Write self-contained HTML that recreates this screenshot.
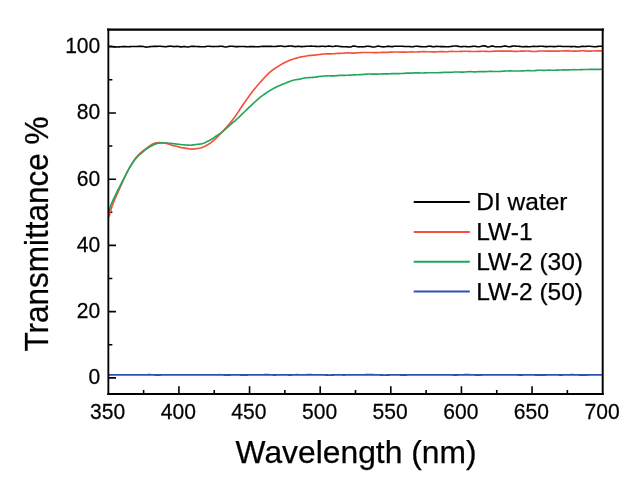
<!DOCTYPE html>
<html lang="en"><head><meta charset="utf-8"><title>Transmittance vs Wavelength</title>
<style>html,body{margin:0;padding:0;background:#fff}body{width:640px;height:490px;overflow:hidden}svg{display:block}</style>
</head><body>
<svg width="640" height="490" viewBox="0 0 640 490">
<rect x="0" y="0" width="640" height="490" fill="#fff"/>
<path d="M143.61 394.0 V390.00 M178.93 394.0 V386.30 M214.24 394.0 V390.00 M249.55 394.0 V386.30 M284.86 394.0 V390.00 M320.18 394.0 V386.30 M355.49 394.0 V390.00 M390.80 394.0 V386.30 M426.11 394.0 V390.00 M461.43 394.0 V386.30 M496.74 394.0 V390.00 M532.05 394.0 V386.30 M567.36 394.0 V390.00 M108.35 377.90 H115.95 M108.35 344.78 H112.35 M108.35 311.66 H115.95 M108.35 278.54 H112.35 M108.35 245.42 H115.95 M108.35 212.30 H112.35 M108.35 179.18 H115.95 M108.35 146.06 H112.35 M108.35 112.94 H115.95 M108.35 79.82 H112.35 M108.35 46.70 H115.95" stroke="#000" stroke-width="1.6" fill="none"/>
<path d="M108.3 375.02 L109.3 374.97 L110.3 374.93 L111.3 374.91 L112.3 374.89 L113.3 374.87 L114.3 374.87 L115.3 374.87 L116.3 374.87 L117.3 374.87 L118.3 374.88 L119.3 374.89 L120.3 374.90 L121.3 374.92 L122.3 374.93 L123.3 374.93 L124.3 374.93 L125.3 374.93 L126.3 374.92 L127.3 374.91 L128.3 374.89 L129.3 374.88 L130.3 374.86 L131.3 374.85 L132.3 374.84 L133.3 374.85 L134.3 374.85 L135.3 374.87 L136.3 374.88 L137.3 374.89 L138.3 374.91 L139.3 374.92 L140.3 374.92 L141.3 374.93 L142.3 374.92 L143.3 374.91 L144.3 374.88 L145.3 374.85 L146.3 374.82 L147.3 374.80 L148.3 374.78 L149.3 374.78 L150.3 374.79 L151.3 374.82 L152.3 374.86 L153.3 374.90 L154.3 374.94 L155.3 374.97 L156.3 374.99 L157.3 374.99 L158.3 374.99 L159.3 374.98 L160.3 374.96 L161.3 374.94 L162.3 374.92 L163.3 374.90 L164.3 374.89 L165.3 374.87 L166.3 374.86 L167.3 374.86 L168.3 374.85 L169.3 374.86 L170.3 374.86 L171.3 374.87 L172.3 374.88 L173.3 374.89 L174.3 374.90 L175.3 374.92 L176.3 374.93 L177.3 374.93 L178.3 374.94 L179.3 374.93 L180.3 374.93 L181.3 374.91 L182.3 374.90 L183.3 374.89 L184.3 374.88 L185.3 374.88 L186.3 374.88 L187.3 374.89 L188.3 374.89 L189.3 374.89 L190.3 374.89 L191.3 374.87 L192.3 374.85 L193.3 374.83 L194.3 374.81 L195.3 374.80 L196.3 374.80 L197.3 374.81 L198.3 374.83 L199.3 374.86 L200.3 374.89 L201.3 374.92 L202.3 374.94 L203.3 374.95 L204.3 374.94 L205.3 374.93 L206.3 374.92 L207.3 374.91 L208.3 374.91 L209.3 374.91 L210.3 374.92 L211.3 374.93 L212.3 374.93 L213.3 374.93 L214.3 374.92 L215.3 374.89 L216.3 374.86 L217.3 374.83 L218.3 374.80 L219.3 374.79 L220.3 374.80 L221.3 374.82 L222.3 374.87 L223.3 374.91 L224.3 374.96 L225.3 375.00 L226.3 375.02 L227.3 375.02 L228.3 375.01 L229.3 374.99 L230.3 374.96 L231.3 374.93 L232.3 374.90 L233.3 374.87 L234.3 374.86 L235.3 374.85 L236.3 374.85 L237.3 374.87 L238.3 374.89 L239.3 374.92 L240.3 374.96 L241.3 374.99 L242.3 375.02 L243.3 375.04 L244.3 375.04 L245.3 375.03 L246.3 375.01 L247.3 374.97 L248.3 374.94 L249.3 374.90 L250.3 374.87 L251.3 374.84 L252.3 374.82 L253.3 374.80 L254.3 374.80 L255.3 374.80 L256.4 374.81 L257.4 374.83 L258.4 374.85 L259.4 374.87 L260.4 374.88 L261.4 374.87 L262.4 374.85 L263.4 374.82 L264.4 374.78 L265.4 374.75 L266.4 374.74 L267.4 374.74 L268.4 374.77 L269.4 374.81 L270.4 374.86 L271.4 374.91 L272.4 374.95 L273.4 374.98 L274.4 374.98 L275.4 374.97 L276.4 374.95 L277.4 374.92 L278.4 374.89 L279.4 374.86 L280.4 374.84 L281.4 374.83 L282.4 374.82 L283.4 374.83 L284.4 374.84 L285.4 374.86 L286.4 374.89 L287.4 374.93 L288.4 374.96 L289.4 374.98 L290.4 374.98 L291.4 374.96 L292.4 374.93 L293.4 374.88 L294.4 374.84 L295.4 374.80 L296.4 374.79 L297.4 374.79 L298.4 374.82 L299.4 374.85 L300.4 374.89 L301.4 374.92 L302.4 374.94 L303.4 374.93 L304.4 374.90 L305.4 374.86 L306.4 374.81 L307.4 374.78 L308.4 374.75 L309.4 374.75 L310.4 374.77 L311.4 374.79 L312.4 374.82 L313.4 374.84 L314.4 374.85 L315.4 374.85 L316.4 374.84 L317.4 374.83 L318.4 374.82 L319.4 374.81 L320.4 374.82 L321.4 374.84 L322.4 374.87 L323.4 374.91 L324.4 374.95 L325.4 374.98 L326.4 375.01 L327.4 375.04 L328.4 375.05 L329.4 375.05 L330.4 375.05 L331.4 375.03 L332.4 375.01 L333.4 374.98 L334.4 374.95 L335.4 374.92 L336.4 374.89 L337.4 374.88 L338.4 374.88 L339.4 374.89 L340.4 374.91 L341.4 374.93 L342.4 374.95 L343.4 374.96 L344.4 374.96 L345.4 374.95 L346.4 374.93 L347.4 374.91 L348.4 374.90 L349.4 374.89 L350.4 374.89 L351.4 374.90 L352.4 374.91 L353.4 374.92 L354.4 374.94 L355.4 374.94 L356.4 374.94 L357.4 374.92 L358.4 374.91 L359.4 374.89 L360.4 374.86 L361.4 374.85 L362.4 374.83 L363.4 374.82 L364.4 374.80 L365.4 374.79 L366.4 374.79 L367.4 374.78 L368.4 374.77 L369.4 374.77 L370.4 374.76 L371.4 374.76 L372.4 374.77 L373.4 374.78 L374.4 374.80 L375.4 374.82 L376.4 374.85 L377.4 374.88 L378.4 374.91 L379.4 374.94 L380.4 374.98 L381.4 375.01 L382.4 375.03 L383.4 375.05 L384.4 375.06 L385.4 375.05 L386.4 375.04 L387.4 375.02 L388.4 374.99 L389.4 374.96 L390.4 374.93 L391.4 374.90 L392.4 374.88 L393.4 374.86 L394.4 374.85 L395.4 374.85 L396.4 374.86 L397.4 374.88 L398.4 374.92 L399.4 374.95 L400.4 374.99 L401.4 375.02 L402.4 375.03 L403.4 375.03 L404.4 375.02 L405.4 374.99 L406.4 374.97 L407.4 374.94 L408.4 374.92 L409.4 374.90 L410.4 374.89 L411.4 374.89 L412.4 374.90 L413.4 374.90 L414.4 374.91 L415.4 374.91 L416.4 374.92 L417.4 374.92 L418.4 374.92 L419.4 374.92 L420.4 374.92 L421.4 374.91 L422.4 374.91 L423.4 374.90 L424.4 374.90 L425.4 374.89 L426.4 374.89 L427.4 374.89 L428.4 374.89 L429.4 374.89 L430.4 374.89 L431.4 374.88 L432.4 374.87 L433.4 374.85 L434.4 374.83 L435.4 374.81 L436.4 374.80 L437.4 374.80 L438.4 374.81 L439.4 374.83 L440.4 374.86 L441.4 374.89 L442.4 374.91 L443.4 374.93 L444.4 374.94 L445.4 374.93 L446.4 374.92 L447.4 374.91 L448.4 374.90 L449.4 374.89 L450.4 374.90 L451.4 374.92 L452.4 374.94 L453.4 374.96 L454.4 374.97 L455.4 374.98 L456.4 374.98 L457.4 374.97 L458.4 374.95 L459.4 374.93 L460.4 374.90 L461.4 374.87 L462.4 374.84 L463.4 374.82 L464.4 374.79 L465.4 374.78 L466.4 374.77 L467.4 374.77 L468.4 374.78 L469.4 374.79 L470.4 374.81 L471.4 374.84 L472.4 374.87 L473.4 374.91 L474.4 374.94 L475.4 374.97 L476.4 374.99 L477.4 375.01 L478.4 375.02 L479.4 375.01 L480.4 375.00 L481.4 374.97 L482.4 374.94 L483.4 374.91 L484.4 374.88 L485.4 374.86 L486.4 374.85 L487.4 374.84 L488.4 374.84 L489.4 374.84 L490.4 374.84 L491.4 374.84 L492.4 374.83 L493.4 374.83 L494.4 374.83 L495.4 374.82 L496.4 374.82 L497.4 374.81 L498.4 374.81 L499.4 374.81 L500.4 374.81 L501.4 374.82 L502.4 374.83 L503.4 374.84 L504.4 374.85 L505.4 374.87 L506.4 374.88 L507.4 374.88 L508.4 374.88 L509.4 374.87 L510.4 374.85 L511.4 374.83 L512.4 374.81 L513.4 374.81 L514.4 374.82 L515.4 374.85 L516.4 374.89 L517.4 374.93 L518.4 374.97 L519.4 374.99 L520.4 375.01 L521.4 375.00 L522.4 374.98 L523.4 374.95 L524.4 374.92 L525.4 374.89 L526.4 374.87 L527.4 374.86 L528.4 374.86 L529.4 374.87 L530.4 374.88 L531.4 374.90 L532.4 374.92 L533.4 374.93 L534.4 374.95 L535.4 374.97 L536.4 374.98 L537.4 375.00 L538.4 375.01 L539.4 375.02 L540.4 375.02 L541.4 375.02 L542.4 375.02 L543.4 375.01 L544.4 374.99 L545.4 374.97 L546.4 374.94 L547.4 374.92 L548.4 374.90 L549.4 374.89 L550.4 374.88 L551.4 374.88 L552.4 374.89 L553.4 374.90 L554.4 374.91 L555.4 374.92 L556.4 374.93 L557.4 374.94 L558.4 374.95 L559.4 374.95 L560.4 374.95 L561.4 374.95 L562.4 374.95 L563.4 374.94 L564.4 374.93 L565.4 374.92 L566.4 374.90 L567.4 374.88 L568.4 374.85 L569.4 374.82 L570.4 374.80 L571.4 374.78 L572.4 374.77 L573.4 374.78 L574.4 374.80 L575.4 374.83 L576.4 374.87 L577.4 374.90 L578.4 374.93 L579.4 374.96 L580.4 374.97 L581.4 374.97 L582.4 374.97 L583.4 374.97 L584.4 374.96 L585.4 374.96 L586.4 374.96 L587.4 374.95 L588.4 374.95 L589.4 374.94 L590.4 374.93 L591.4 374.92 L592.4 374.90 L593.4 374.89 L594.4 374.87 L595.4 374.85 L596.4 374.84 L597.4 374.83 L598.4 374.82 L599.4 374.82 L600.4 374.84 L601.4 374.86 L602.7 374.89" stroke="#2A54B4" stroke-width="1.85" fill="none" stroke-linejoin="round"/>
<path d="M108.3 46.35 L109.3 46.28 L110.3 46.30 L111.3 46.37 L112.3 46.49 L113.3 46.62 L114.3 46.74 L115.3 46.84 L116.3 46.91 L117.3 46.93 L118.3 46.91 L119.3 46.86 L120.3 46.79 L121.3 46.72 L122.3 46.67 L123.3 46.64 L124.3 46.63 L125.3 46.64 L126.3 46.66 L127.3 46.68 L128.3 46.69 L129.3 46.67 L130.3 46.61 L131.3 46.55 L132.3 46.50 L133.3 46.48 L134.3 46.49 L135.3 46.49 L136.3 46.47 L137.3 46.43 L138.3 46.37 L139.3 46.33 L140.3 46.31 L141.3 46.33 L142.3 46.41 L143.3 46.57 L144.3 46.78 L145.3 46.97 L146.3 47.09 L147.3 47.07 L148.3 46.96 L149.3 46.80 L150.3 46.65 L151.3 46.53 L152.3 46.45 L153.3 46.41 L154.3 46.39 L155.3 46.39 L156.3 46.39 L157.3 46.35 L158.3 46.30 L159.3 46.27 L160.3 46.28 L161.3 46.35 L162.3 46.46 L163.3 46.57 L164.3 46.66 L165.3 46.70 L166.3 46.67 L167.3 46.56 L168.3 46.38 L169.3 46.20 L170.3 46.12 L171.3 46.21 L172.3 46.39 L173.3 46.57 L174.3 46.63 L175.3 46.54 L176.3 46.41 L177.3 46.35 L178.3 46.45 L179.3 46.65 L180.3 46.83 L181.3 46.86 L182.3 46.75 L183.3 46.61 L184.3 46.54 L185.3 46.63 L186.3 46.80 L187.3 46.93 L188.3 46.92 L189.3 46.75 L190.3 46.54 L191.3 46.37 L192.3 46.31 L193.3 46.34 L194.3 46.40 L195.3 46.46 L196.3 46.50 L197.3 46.54 L198.3 46.59 L199.3 46.65 L200.3 46.71 L201.3 46.76 L202.3 46.79 L203.3 46.79 L204.3 46.73 L205.3 46.61 L206.3 46.44 L207.3 46.27 L208.3 46.18 L209.3 46.22 L210.3 46.34 L211.3 46.48 L212.3 46.57 L213.3 46.59 L214.3 46.56 L215.3 46.51 L216.3 46.48 L217.3 46.45 L218.3 46.42 L219.3 46.36 L220.3 46.29 L221.3 46.26 L222.3 46.33 L223.3 46.52 L224.3 46.75 L225.3 46.92 L226.3 46.94 L227.3 46.80 L228.3 46.58 L229.3 46.38 L230.3 46.26 L231.3 46.22 L232.3 46.25 L233.3 46.35 L234.3 46.48 L235.3 46.60 L236.3 46.67 L237.3 46.67 L238.3 46.62 L239.3 46.55 L240.3 46.49 L241.3 46.46 L242.3 46.46 L243.3 46.49 L244.3 46.56 L245.3 46.64 L246.3 46.70 L247.3 46.71 L248.3 46.69 L249.3 46.65 L250.3 46.61 L251.3 46.58 L252.3 46.57 L253.3 46.59 L254.3 46.64 L255.3 46.69 L256.4 46.74 L257.4 46.75 L258.4 46.72 L259.4 46.66 L260.4 46.57 L261.4 46.48 L262.4 46.41 L263.4 46.35 L264.4 46.34 L265.4 46.36 L266.4 46.39 L267.4 46.41 L268.4 46.39 L269.4 46.36 L270.4 46.36 L271.4 46.40 L272.4 46.47 L273.4 46.54 L274.4 46.55 L275.4 46.50 L276.4 46.39 L277.4 46.26 L278.4 46.12 L279.4 46.02 L280.4 45.99 L281.4 46.05 L282.4 46.21 L283.4 46.39 L284.4 46.51 L285.4 46.52 L286.4 46.41 L287.4 46.26 L288.4 46.10 L289.4 45.98 L290.4 45.93 L291.4 45.98 L292.4 46.15 L293.4 46.37 L294.4 46.55 L295.4 46.60 L296.4 46.51 L297.4 46.39 L298.4 46.32 L299.4 46.36 L300.4 46.49 L301.4 46.60 L302.4 46.63 L303.4 46.57 L304.4 46.46 L305.4 46.35 L306.4 46.28 L307.4 46.24 L308.4 46.22 L309.4 46.19 L310.4 46.17 L311.4 46.17 L312.4 46.18 L313.4 46.23 L314.4 46.29 L315.4 46.35 L316.4 46.40 L317.4 46.44 L318.4 46.45 L319.4 46.42 L320.4 46.36 L321.4 46.30 L322.4 46.28 L323.4 46.32 L324.4 46.40 L325.4 46.44 L326.4 46.40 L327.4 46.28 L328.4 46.15 L329.4 46.10 L330.4 46.19 L331.4 46.35 L332.4 46.48 L333.4 46.48 L334.4 46.33 L335.4 46.15 L336.4 46.03 L337.4 46.06 L338.4 46.20 L339.4 46.38 L340.4 46.52 L341.4 46.61 L342.4 46.66 L343.4 46.68 L344.4 46.69 L345.4 46.71 L346.4 46.75 L347.4 46.85 L348.4 46.97 L349.4 47.01 L350.4 46.91 L351.4 46.65 L352.4 46.34 L353.4 46.12 L354.4 46.12 L355.4 46.30 L356.4 46.54 L357.4 46.74 L358.4 46.82 L359.4 46.83 L360.4 46.81 L361.4 46.82 L362.4 46.83 L363.4 46.80 L364.4 46.71 L365.4 46.55 L366.4 46.38 L367.4 46.26 L368.4 46.25 L369.4 46.34 L370.4 46.50 L371.4 46.70 L372.4 46.90 L373.4 47.02 L374.4 46.98 L375.4 46.76 L376.4 46.44 L377.4 46.18 L378.4 46.09 L379.4 46.21 L380.4 46.42 L381.4 46.64 L382.4 46.79 L383.4 46.86 L384.4 46.82 L385.4 46.70 L386.4 46.52 L387.4 46.37 L388.4 46.32 L389.4 46.41 L390.4 46.55 L391.4 46.65 L392.4 46.61 L393.4 46.47 L394.4 46.31 L395.4 46.20 L396.4 46.19 L397.4 46.24 L398.4 46.28 L399.4 46.29 L400.4 46.28 L401.4 46.27 L402.4 46.31 L403.4 46.40 L404.4 46.49 L405.4 46.55 L406.4 46.54 L407.4 46.49 L408.4 46.46 L409.4 46.51 L410.4 46.62 L411.4 46.72 L412.4 46.75 L413.4 46.64 L414.4 46.47 L415.4 46.30 L416.4 46.23 L417.4 46.26 L418.4 46.36 L419.4 46.48 L420.4 46.58 L421.4 46.67 L422.4 46.73 L423.4 46.77 L424.4 46.78 L425.4 46.74 L426.4 46.62 L427.4 46.43 L428.4 46.25 L429.4 46.15 L430.4 46.22 L431.4 46.41 L432.4 46.59 L433.4 46.68 L434.4 46.62 L435.4 46.49 L436.4 46.38 L437.4 46.38 L438.4 46.46 L439.4 46.56 L440.4 46.61 L441.4 46.61 L442.4 46.58 L443.4 46.58 L444.4 46.63 L445.4 46.72 L446.4 46.79 L447.4 46.82 L448.4 46.77 L449.4 46.67 L450.4 46.53 L451.4 46.36 L452.4 46.20 L453.4 46.06 L454.4 45.98 L455.4 45.97 L456.4 46.03 L457.4 46.16 L458.4 46.35 L459.4 46.54 L460.4 46.67 L461.4 46.68 L462.4 46.58 L463.4 46.47 L464.4 46.44 L465.4 46.51 L466.4 46.65 L467.4 46.77 L468.4 46.82 L469.4 46.77 L470.4 46.67 L471.4 46.53 L472.4 46.40 L473.4 46.30 L474.4 46.29 L475.4 46.40 L476.4 46.57 L477.4 46.73 L478.4 46.79 L479.4 46.71 L480.4 46.54 L481.4 46.31 L482.4 46.07 L483.4 45.90 L484.4 45.88 L485.4 46.10 L486.4 46.49 L487.4 46.87 L488.4 47.04 L489.4 46.84 L490.4 46.45 L491.4 46.09 L492.4 45.98 L493.4 46.15 L494.4 46.43 L495.4 46.68 L496.4 46.80 L497.4 46.80 L498.4 46.76 L499.4 46.72 L500.4 46.70 L501.4 46.64 L502.4 46.51 L503.4 46.31 L504.4 46.12 L505.4 46.05 L506.4 46.17 L507.4 46.43 L508.4 46.68 L509.4 46.76 L510.4 46.63 L511.4 46.39 L512.4 46.16 L513.4 46.04 L514.4 46.04 L515.4 46.10 L516.4 46.18 L517.4 46.24 L518.4 46.31 L519.4 46.40 L520.4 46.50 L521.4 46.61 L522.4 46.69 L523.4 46.70 L524.4 46.66 L525.4 46.60 L526.4 46.58 L527.4 46.62 L528.4 46.68 L529.4 46.72 L530.4 46.68 L531.4 46.57 L532.4 46.46 L533.4 46.38 L534.4 46.38 L535.4 46.43 L536.4 46.46 L537.4 46.43 L538.4 46.34 L539.4 46.25 L540.4 46.20 L541.4 46.22 L542.4 46.29 L543.4 46.39 L544.4 46.50 L545.4 46.60 L546.4 46.65 L547.4 46.64 L548.4 46.57 L549.4 46.48 L550.4 46.42 L551.4 46.45 L552.4 46.53 L553.4 46.60 L554.4 46.62 L555.4 46.56 L556.4 46.45 L557.4 46.36 L558.4 46.30 L559.4 46.29 L560.4 46.32 L561.4 46.37 L562.4 46.43 L563.4 46.49 L564.4 46.51 L565.4 46.49 L566.4 46.46 L567.4 46.44 L568.4 46.48 L569.4 46.55 L570.4 46.63 L571.4 46.65 L572.4 46.61 L573.4 46.55 L574.4 46.53 L575.4 46.61 L576.4 46.77 L577.4 46.91 L578.4 46.95 L579.4 46.83 L580.4 46.65 L581.4 46.48 L582.4 46.40 L583.4 46.41 L584.4 46.44 L585.4 46.43 L586.4 46.37 L587.4 46.29 L588.4 46.23 L589.4 46.25 L590.4 46.32 L591.4 46.43 L592.4 46.55 L593.4 46.64 L594.4 46.69 L595.4 46.68 L596.4 46.61 L597.4 46.49 L598.4 46.37 L599.4 46.27 L600.4 46.23 L601.4 46.29 L602.7 46.49" stroke="#000" stroke-width="1.6" fill="none" stroke-linejoin="round"/>
<path d="M108.3 217.42 L109.3 215.87 L110.3 212.31 L111.3 208.54 L112.3 205.44 L113.3 202.84 L114.3 200.50 L115.3 198.21 L116.3 195.92 L117.3 193.64 L118.3 191.38 L119.3 189.14 L120.3 186.93 L121.3 184.73 L122.3 182.55 L123.3 180.38 L124.3 178.22 L125.3 176.09 L126.3 174.00 L127.3 171.96 L128.3 170.00 L129.3 168.11 L130.3 166.31 L131.3 164.59 L132.3 162.96 L133.3 161.42 L134.3 159.97 L135.3 158.62 L136.3 157.37 L137.3 156.22 L138.3 155.14 L139.3 154.14 L140.3 153.20 L141.3 152.30 L142.3 151.45 L143.3 150.63 L144.3 149.83 L145.3 149.06 L146.3 148.30 L147.3 147.56 L148.3 146.83 L149.3 146.12 L150.3 145.45 L151.3 144.83 L152.3 144.27 L153.3 143.79 L154.3 143.40 L155.3 143.11 L156.3 142.89 L157.3 142.75 L158.3 142.68 L159.3 142.66 L160.3 142.68 L161.3 142.73 L162.3 142.81 L163.3 142.91 L164.3 143.03 L165.3 143.19 L166.3 143.39 L167.3 143.66 L168.3 143.97 L169.3 144.33 L170.3 144.69 L171.3 145.03 L172.3 145.34 L173.3 145.60 L174.3 145.83 L175.3 146.05 L176.3 146.28 L177.3 146.53 L178.3 146.81 L179.3 147.09 L180.3 147.36 L181.3 147.60 L182.3 147.80 L183.3 147.94 L184.3 148.07 L185.3 148.19 L186.3 148.32 L187.3 148.48 L188.3 148.67 L189.3 148.85 L190.3 149.00 L191.3 149.09 L192.3 149.11 L193.3 149.06 L194.3 148.96 L195.3 148.83 L196.3 148.69 L197.3 148.54 L198.3 148.39 L199.3 148.21 L200.3 147.99 L201.3 147.71 L202.3 147.37 L203.3 146.96 L204.3 146.51 L205.3 146.02 L206.3 145.50 L207.3 144.96 L208.3 144.40 L209.3 143.79 L210.3 143.12 L211.3 142.39 L212.3 141.60 L213.3 140.75 L214.3 139.85 L215.3 138.92 L216.3 137.95 L217.3 136.95 L218.3 135.94 L219.3 134.91 L220.3 133.88 L221.3 132.83 L222.3 131.79 L223.3 130.74 L224.3 129.69 L225.3 128.62 L226.3 127.53 L227.3 126.41 L228.3 125.26 L229.3 124.08 L230.3 122.86 L231.3 121.61 L232.3 120.33 L233.3 119.02 L234.3 117.67 L235.3 116.27 L236.3 114.82 L237.3 113.34 L238.3 111.84 L239.3 110.32 L240.3 108.80 L241.3 107.29 L242.3 105.80 L243.3 104.32 L244.3 102.86 L245.3 101.43 L246.3 100.01 L247.3 98.61 L248.3 97.22 L249.3 95.86 L250.3 94.50 L251.3 93.16 L252.3 91.83 L253.3 90.53 L254.3 89.24 L255.3 87.97 L256.4 86.73 L257.4 85.52 L258.4 84.34 L259.4 83.18 L260.4 82.05 L261.4 80.94 L262.4 79.85 L263.4 78.77 L264.4 77.71 L265.4 76.64 L266.4 75.59 L267.4 74.55 L268.4 73.56 L269.4 72.62 L270.4 71.75 L271.4 70.94 L272.4 70.19 L273.4 69.48 L274.4 68.80 L275.4 68.13 L276.4 67.48 L277.4 66.84 L278.4 66.21 L279.4 65.58 L280.4 64.97 L281.4 64.36 L282.4 63.78 L283.4 63.21 L284.4 62.66 L285.4 62.14 L286.4 61.66 L287.4 61.20 L288.4 60.77 L289.4 60.37 L290.4 60.01 L291.4 59.67 L292.4 59.35 L293.4 59.04 L294.4 58.72 L295.4 58.41 L296.4 58.09 L297.4 57.79 L298.4 57.52 L299.4 57.27 L300.4 57.06 L301.4 56.88 L302.4 56.71 L303.4 56.55 L304.4 56.37 L305.4 56.19 L306.4 56.00 L307.4 55.81 L308.4 55.65 L309.4 55.52 L310.4 55.42 L311.4 55.33 L312.4 55.26 L313.4 55.18 L314.4 55.09 L315.4 54.98 L316.4 54.86 L317.4 54.73 L318.4 54.60 L319.4 54.47 L320.4 54.34 L321.4 54.23 L322.4 54.13 L323.4 54.05 L324.4 53.99 L325.4 53.96 L326.4 53.93 L327.4 53.92 L328.4 53.91 L329.4 53.89 L330.4 53.86 L331.4 53.83 L332.4 53.78 L333.4 53.72 L334.4 53.64 L335.4 53.56 L336.4 53.48 L337.4 53.41 L338.4 53.36 L339.4 53.33 L340.4 53.32 L341.4 53.30 L342.4 53.27 L343.4 53.22 L344.4 53.14 L345.4 53.04 L346.4 52.95 L347.4 52.89 L348.4 52.88 L349.4 52.92 L350.4 52.99 L351.4 53.06 L352.4 53.12 L353.4 53.14 L354.4 53.11 L355.4 53.05 L356.4 52.97 L357.4 52.88 L358.4 52.79 L359.4 52.72 L360.4 52.65 L361.4 52.60 L362.4 52.55 L363.4 52.52 L364.4 52.49 L365.4 52.48 L366.4 52.47 L367.4 52.47 L368.4 52.48 L369.4 52.49 L370.4 52.51 L371.4 52.53 L372.4 52.55 L373.4 52.57 L374.4 52.59 L375.4 52.60 L376.4 52.59 L377.4 52.58 L378.4 52.54 L379.4 52.50 L380.4 52.45 L381.4 52.41 L382.4 52.38 L383.4 52.37 L384.4 52.37 L385.4 52.38 L386.4 52.37 L387.4 52.35 L388.4 52.31 L389.4 52.26 L390.4 52.19 L391.4 52.13 L392.4 52.07 L393.4 52.02 L394.4 51.99 L395.4 51.97 L396.4 51.97 L397.4 51.99 L398.4 52.03 L399.4 52.08 L400.4 52.12 L401.4 52.16 L402.4 52.18 L403.4 52.17 L404.4 52.15 L405.4 52.11 L406.4 52.07 L407.4 52.02 L408.4 51.98 L409.4 51.95 L410.4 51.93 L411.4 51.92 L412.4 51.94 L413.4 51.97 L414.4 52.01 L415.4 52.03 L416.4 52.02 L417.4 51.98 L418.4 51.92 L419.4 51.84 L420.4 51.76 L421.4 51.69 L422.4 51.66 L423.4 51.65 L424.4 51.66 L425.4 51.68 L426.4 51.70 L427.4 51.73 L428.4 51.75 L429.4 51.78 L430.4 51.80 L431.4 51.83 L432.4 51.86 L433.4 51.89 L434.4 51.90 L435.4 51.89 L436.4 51.86 L437.4 51.80 L438.4 51.73 L439.4 51.66 L440.4 51.62 L441.4 51.61 L442.4 51.64 L443.4 51.69 L444.4 51.74 L445.4 51.77 L446.4 51.75 L447.4 51.70 L448.4 51.62 L449.4 51.54 L450.4 51.47 L451.4 51.44 L452.4 51.44 L453.4 51.46 L454.4 51.49 L455.4 51.52 L456.4 51.54 L457.4 51.54 L458.4 51.52 L459.4 51.49 L460.4 51.44 L461.4 51.39 L462.4 51.34 L463.4 51.29 L464.4 51.25 L465.4 51.23 L466.4 51.25 L467.4 51.28 L468.4 51.33 L469.4 51.38 L470.4 51.43 L471.4 51.46 L472.4 51.49 L473.4 51.49 L474.4 51.49 L475.4 51.48 L476.4 51.45 L477.4 51.42 L478.4 51.38 L479.4 51.35 L480.4 51.32 L481.4 51.29 L482.4 51.28 L483.4 51.28 L484.4 51.29 L485.4 51.33 L486.4 51.37 L487.4 51.42 L488.4 51.46 L489.4 51.47 L490.4 51.45 L491.4 51.39 L492.4 51.31 L493.4 51.23 L494.4 51.15 L495.4 51.10 L496.4 51.06 L497.4 51.05 L498.4 51.06 L499.4 51.07 L500.4 51.10 L501.4 51.12 L502.4 51.15 L503.4 51.16 L504.4 51.16 L505.4 51.14 L506.4 51.11 L507.4 51.09 L508.4 51.07 L509.4 51.08 L510.4 51.12 L511.4 51.19 L512.4 51.26 L513.4 51.33 L514.4 51.37 L515.4 51.38 L516.4 51.36 L517.4 51.32 L518.4 51.27 L519.4 51.22 L520.4 51.18 L521.4 51.15 L522.4 51.12 L523.4 51.09 L524.4 51.07 L525.4 51.04 L526.4 51.02 L527.4 51.02 L528.4 51.05 L529.4 51.12 L530.4 51.22 L531.4 51.33 L532.4 51.42 L533.4 51.48 L534.4 51.48 L535.4 51.42 L536.4 51.32 L537.4 51.20 L538.4 51.10 L539.4 51.02 L540.4 50.99 L541.4 50.98 L542.4 50.99 L543.4 51.02 L544.4 51.05 L545.4 51.07 L546.4 51.10 L547.4 51.12 L548.4 51.14 L549.4 51.15 L550.4 51.16 L551.4 51.17 L552.4 51.17 L553.4 51.17 L554.4 51.16 L555.4 51.15 L556.4 51.14 L557.4 51.12 L558.4 51.10 L559.4 51.07 L560.4 51.04 L561.4 51.01 L562.4 50.98 L563.4 50.94 L564.4 50.92 L565.4 50.90 L566.4 50.89 L567.4 50.89 L568.4 50.91 L569.4 50.94 L570.4 50.99 L571.4 51.03 L572.4 51.07 L573.4 51.10 L574.4 51.11 L575.4 51.10 L576.4 51.07 L577.4 51.03 L578.4 50.97 L579.4 50.90 L580.4 50.84 L581.4 50.80 L582.4 50.78 L583.4 50.80 L584.4 50.86 L585.4 50.94 L586.4 51.02 L587.4 51.09 L588.4 51.12 L589.4 51.13 L590.4 51.11 L591.4 51.08 L592.4 51.04 L593.4 51.00 L594.4 50.96 L595.4 50.93 L596.4 50.91 L597.4 50.88 L598.4 50.87 L599.4 50.85 L600.4 50.85 L601.4 50.85 L602.7 50.85" stroke="#F4503A" stroke-width="1.65" fill="none" stroke-linejoin="round"/>
<path d="M108.3 212.79 L109.3 210.00 L110.3 206.79 L111.3 204.11 L112.3 201.77 L113.3 199.59 L114.3 197.45 L115.3 195.34 L116.3 193.27 L117.3 191.23 L118.3 189.24 L119.3 187.29 L120.3 185.37 L121.3 183.46 L122.3 181.55 L123.3 179.61 L124.3 177.64 L125.3 175.67 L126.3 173.71 L127.3 171.79 L128.3 169.94 L129.3 168.18 L130.3 166.50 L131.3 164.89 L132.3 163.34 L133.3 161.85 L134.3 160.44 L135.3 159.12 L136.3 157.92 L137.3 156.84 L138.3 155.86 L139.3 154.96 L140.3 154.10 L141.3 153.26 L142.3 152.41 L143.3 151.56 L144.3 150.72 L145.3 149.89 L146.3 149.10 L147.3 148.37 L148.3 147.70 L149.3 147.10 L150.3 146.54 L151.3 146.02 L152.3 145.51 L153.3 145.02 L154.3 144.55 L155.3 144.12 L156.3 143.75 L157.3 143.45 L158.3 143.22 L159.3 143.06 L160.3 142.96 L161.3 142.90 L162.3 142.89 L163.3 142.91 L164.3 142.95 L165.3 143.01 L166.3 143.07 L167.3 143.14 L168.3 143.20 L169.3 143.27 L170.3 143.34 L171.3 143.42 L172.3 143.51 L173.3 143.61 L174.3 143.73 L175.3 143.86 L176.3 143.99 L177.3 144.12 L178.3 144.26 L179.3 144.39 L180.3 144.51 L181.3 144.63 L182.3 144.72 L183.3 144.80 L184.3 144.88 L185.3 144.95 L186.3 145.01 L187.3 145.08 L188.3 145.15 L189.3 145.19 L190.3 145.21 L191.3 145.17 L192.3 145.08 L193.3 144.94 L194.3 144.78 L195.3 144.61 L196.3 144.47 L197.3 144.36 L198.3 144.27 L199.3 144.17 L200.3 144.05 L201.3 143.87 L202.3 143.62 L203.3 143.31 L204.3 142.94 L205.3 142.53 L206.3 142.09 L207.3 141.61 L208.3 141.11 L209.3 140.57 L210.3 140.00 L211.3 139.38 L212.3 138.74 L213.3 138.06 L214.3 137.38 L215.3 136.69 L216.3 136.01 L217.3 135.34 L218.3 134.68 L219.3 134.00 L220.3 133.31 L221.3 132.58 L222.3 131.82 L223.3 131.03 L224.3 130.20 L225.3 129.33 L226.3 128.42 L227.3 127.49 L228.3 126.55 L229.3 125.62 L230.3 124.71 L231.3 123.85 L232.3 123.01 L233.3 122.20 L234.3 121.38 L235.3 120.54 L236.3 119.66 L237.3 118.76 L238.3 117.82 L239.3 116.87 L240.3 115.90 L241.3 114.93 L242.3 113.95 L243.3 112.97 L244.3 111.99 L245.3 111.02 L246.3 110.06 L247.3 109.10 L248.3 108.16 L249.3 107.22 L250.3 106.28 L251.3 105.34 L252.3 104.40 L253.3 103.45 L254.3 102.51 L255.3 101.57 L256.4 100.63 L257.4 99.70 L258.4 98.79 L259.4 97.93 L260.4 97.11 L261.4 96.33 L262.4 95.60 L263.4 94.90 L264.4 94.21 L265.4 93.52 L266.4 92.85 L267.4 92.18 L268.4 91.52 L269.4 90.88 L270.4 90.27 L271.4 89.68 L272.4 89.12 L273.4 88.57 L274.4 88.05 L275.4 87.54 L276.4 87.06 L277.4 86.58 L278.4 86.12 L279.4 85.67 L280.4 85.23 L281.4 84.80 L282.4 84.38 L283.4 83.97 L284.4 83.56 L285.4 83.16 L286.4 82.77 L287.4 82.38 L288.4 81.99 L289.4 81.60 L290.4 81.22 L291.4 80.85 L292.4 80.50 L293.4 80.20 L294.4 79.95 L295.4 79.76 L296.4 79.61 L297.4 79.48 L298.4 79.33 L299.4 79.15 L300.4 78.93 L301.4 78.68 L302.4 78.43 L303.4 78.20 L304.4 78.01 L305.4 77.87 L306.4 77.77 L307.4 77.70 L308.4 77.64 L309.4 77.59 L310.4 77.54 L311.4 77.48 L312.4 77.41 L313.4 77.33 L314.4 77.22 L315.4 77.09 L316.4 76.95 L317.4 76.81 L318.4 76.67 L319.4 76.55 L320.4 76.44 L321.4 76.33 L322.4 76.24 L323.4 76.15 L324.4 76.05 L325.4 75.96 L326.4 75.88 L327.4 75.82 L328.4 75.79 L329.4 75.79 L330.4 75.82 L331.4 75.84 L332.4 75.86 L333.4 75.85 L334.4 75.81 L335.4 75.73 L336.4 75.65 L337.4 75.56 L338.4 75.48 L339.4 75.43 L340.4 75.40 L341.4 75.38 L342.4 75.37 L343.4 75.36 L344.4 75.34 L345.4 75.32 L346.4 75.29 L347.4 75.26 L348.4 75.21 L349.4 75.15 L350.4 75.09 L351.4 75.02 L352.4 74.96 L353.4 74.90 L354.4 74.86 L355.4 74.81 L356.4 74.78 L357.4 74.74 L358.4 74.70 L359.4 74.67 L360.4 74.63 L361.4 74.57 L362.4 74.51 L363.4 74.42 L364.4 74.32 L365.4 74.23 L366.4 74.14 L367.4 74.07 L368.4 74.03 L369.4 74.02 L370.4 74.04 L371.4 74.06 L372.4 74.08 L373.4 74.11 L374.4 74.12 L375.4 74.13 L376.4 74.12 L377.4 74.11 L378.4 74.08 L379.4 74.04 L380.4 74.01 L381.4 73.97 L382.4 73.94 L383.4 73.92 L384.4 73.91 L385.4 73.90 L386.4 73.89 L387.4 73.86 L388.4 73.83 L389.4 73.78 L390.4 73.74 L391.4 73.69 L392.4 73.65 L393.4 73.62 L394.4 73.59 L395.4 73.57 L396.4 73.56 L397.4 73.56 L398.4 73.56 L399.4 73.56 L400.4 73.55 L401.4 73.52 L402.4 73.47 L403.4 73.40 L404.4 73.32 L405.4 73.24 L406.4 73.19 L407.4 73.15 L408.4 73.14 L409.4 73.15 L410.4 73.14 L411.4 73.12 L412.4 73.08 L413.4 73.01 L414.4 72.93 L415.4 72.87 L416.4 72.84 L417.4 72.85 L418.4 72.89 L419.4 72.94 L420.4 73.00 L421.4 73.02 L422.4 73.01 L423.4 72.97 L424.4 72.91 L425.4 72.85 L426.4 72.79 L427.4 72.75 L428.4 72.73 L429.4 72.73 L430.4 72.73 L431.4 72.74 L432.4 72.74 L433.4 72.75 L434.4 72.76 L435.4 72.75 L436.4 72.74 L437.4 72.73 L438.4 72.70 L439.4 72.66 L440.4 72.62 L441.4 72.56 L442.4 72.50 L443.4 72.44 L444.4 72.38 L445.4 72.35 L446.4 72.34 L447.4 72.35 L448.4 72.36 L449.4 72.37 L450.4 72.35 L451.4 72.30 L452.4 72.22 L453.4 72.13 L454.4 72.04 L455.4 71.98 L456.4 71.96 L457.4 71.97 L458.4 72.01 L459.4 72.05 L460.4 72.09 L461.4 72.10 L462.4 72.10 L463.4 72.07 L464.4 72.03 L465.4 71.96 L466.4 71.88 L467.4 71.79 L468.4 71.71 L469.4 71.66 L470.4 71.65 L471.4 71.69 L472.4 71.76 L473.4 71.84 L474.4 71.89 L475.4 71.90 L476.4 71.86 L477.4 71.78 L478.4 71.69 L479.4 71.61 L480.4 71.56 L481.4 71.55 L482.4 71.58 L483.4 71.61 L484.4 71.64 L485.4 71.63 L486.4 71.60 L487.4 71.54 L488.4 71.48 L489.4 71.43 L490.4 71.40 L491.4 71.40 L492.4 71.42 L493.4 71.45 L494.4 71.48 L495.4 71.50 L496.4 71.51 L497.4 71.51 L498.4 71.49 L499.4 71.45 L500.4 71.40 L501.4 71.33 L502.4 71.25 L503.4 71.17 L504.4 71.10 L505.4 71.04 L506.4 70.99 L507.4 70.95 L508.4 70.93 L509.4 70.91 L510.4 70.92 L511.4 70.93 L512.4 70.95 L513.4 70.97 L514.4 70.99 L515.4 71.01 L516.4 71.03 L517.4 71.04 L518.4 71.03 L519.4 71.01 L520.4 70.98 L521.4 70.93 L522.4 70.88 L523.4 70.82 L524.4 70.77 L525.4 70.72 L526.4 70.68 L527.4 70.66 L528.4 70.65 L529.4 70.67 L530.4 70.69 L531.4 70.72 L532.4 70.74 L533.4 70.72 L534.4 70.66 L535.4 70.56 L536.4 70.44 L537.4 70.32 L538.4 70.24 L539.4 70.20 L540.4 70.22 L541.4 70.27 L542.4 70.33 L543.4 70.37 L544.4 70.37 L545.4 70.33 L546.4 70.28 L547.4 70.23 L548.4 70.19 L549.4 70.19 L550.4 70.21 L551.4 70.25 L552.4 70.28 L553.4 70.30 L554.4 70.28 L555.4 70.25 L556.4 70.19 L557.4 70.13 L558.4 70.07 L559.4 70.02 L560.4 69.98 L561.4 69.95 L562.4 69.94 L563.4 69.93 L564.4 69.93 L565.4 69.94 L566.4 69.95 L567.4 69.94 L568.4 69.91 L569.4 69.86 L570.4 69.80 L571.4 69.75 L572.4 69.70 L573.4 69.68 L574.4 69.69 L575.4 69.71 L576.4 69.74 L577.4 69.75 L578.4 69.75 L579.4 69.72 L580.4 69.68 L581.4 69.63 L582.4 69.58 L583.4 69.55 L584.4 69.53 L585.4 69.52 L586.4 69.52 L587.4 69.50 L588.4 69.47 L589.4 69.44 L590.4 69.40 L591.4 69.36 L592.4 69.34 L593.4 69.34 L594.4 69.35 L595.4 69.38 L596.4 69.40 L597.4 69.42 L598.4 69.43 L599.4 69.41 L600.4 69.37 L601.4 69.30 L602.7 69.17" stroke="#22A65A" stroke-width="1.65" fill="none" stroke-linejoin="round"/>
<path d="M108.35 29.5 V394.0" stroke="#000" stroke-width="1.85" stroke-linecap="square" fill="none"/>
<path d="M602.7 29.5 V394.0" stroke="#000" stroke-width="1.95" stroke-linecap="square" fill="none"/>
<path d="M108.35 29.55 H602.7" stroke="#000" stroke-width="2.3" stroke-linecap="square" fill="none"/>
<path d="M108.35 394.0 H602.7" stroke="#000" stroke-width="2.0" stroke-linecap="square" fill="none"/>
<g font-family="'Liberation Sans', Arial, sans-serif" fill="#000" stroke="#000" stroke-width="0.25">
<g font-size="22.2" text-anchor="middle">
<text transform="translate(107.70,418.5) scale(0.95,1)">350</text>
<text transform="translate(178.33,418.5) scale(0.95,1)">400</text>
<text transform="translate(248.95,418.5) scale(0.95,1)">450</text>
<text transform="translate(319.57,418.5) scale(0.95,1)">500</text>
<text transform="translate(390.20,418.5) scale(0.95,1)">550</text>
<text transform="translate(460.82,418.5) scale(0.95,1)">600</text>
<text transform="translate(531.45,418.5) scale(0.95,1)">650</text>
<text transform="translate(602.08,418.5) scale(0.95,1)">700</text>
</g><g font-size="22.2" text-anchor="end">
<text transform="translate(100.3,384.30) scale(0.95,1)">0</text>
<text transform="translate(100.3,318.06) scale(0.95,1)">20</text>
<text transform="translate(100.3,251.82) scale(0.95,1)">40</text>
<text transform="translate(100.3,185.58) scale(0.95,1)">60</text>
<text transform="translate(100.3,119.34) scale(0.95,1)">80</text>
<text transform="translate(100.3,53.10) scale(0.95,1)">100</text>
</g>
<text x="235.6" y="462.5" font-size="30.7" textLength="241" lengthAdjust="spacingAndGlyphs">Wavelength (nm)</text>
<text transform="translate(48,351.5) rotate(-90)" font-size="33" textLength="235" lengthAdjust="spacingAndGlyphs">Transmittance %</text>
<line x1="413.7" x2="469.8" y1="202.0" y2="202.0" stroke="#000" stroke-width="2"/>
<text x="476.3" y="210.1" font-size="24.5">DI water</text>
<line x1="413.7" x2="469.8" y1="231.9" y2="231.9" stroke="#F4503A" stroke-width="2"/>
<text x="476.3" y="240.0" font-size="24.5">LW-1</text>
<line x1="413.7" x2="469.8" y1="261.8" y2="261.8" stroke="#22A65A" stroke-width="2"/>
<text x="476.3" y="269.9" font-size="24.5">LW-2 (30)</text>
<line x1="413.7" x2="469.8" y1="291.6" y2="291.6" stroke="#2A54B4" stroke-width="2"/>
<text x="476.3" y="299.7" font-size="24.5">LW-2 (50)</text>
</g></svg>
</body></html>
